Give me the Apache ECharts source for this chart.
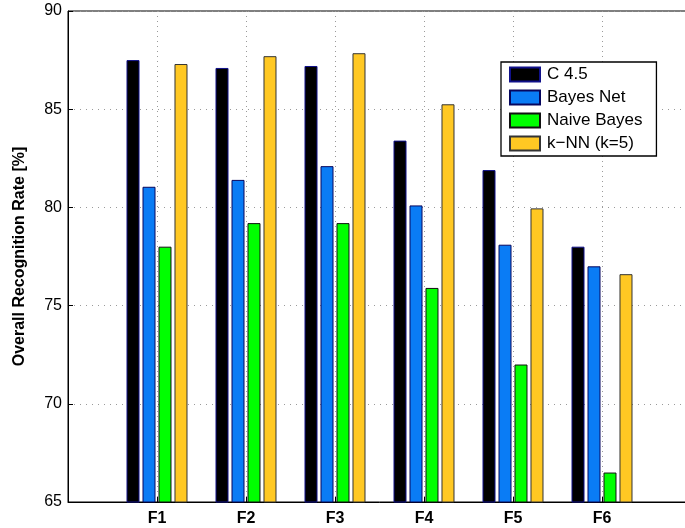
<!DOCTYPE html>
<html>
<head>
<meta charset="utf-8">
<script src="https://cdn.jsdelivr.net/npm/echarts@6/dist/echarts.min.js"></script>
<style>
  html, body { margin: 0; padding: 0; background: #fff; overflow: hidden; width: 685px; height: 528px; }
  #chart { width: 694px; height: 528px; }
</style>
</head>
<body>
<div id="chart"></div>
<script>
// Feature sets on the x axis
const categories = ['F1', 'F2', 'F3', 'F4', 'F5', 'F6'];

// Recognition rate (%) per classifier
const c45 = [87.5, 87.1, 87.2, 83.4, 81.9, 78.0];
const bayesNet = [81.05, 81.4, 82.1, 80.1, 78.1, 77.0];
const naiveBayes = [78.0, 79.2, 79.2, 75.9, 72.0, 66.5];
const knn = [87.3, 87.7, 87.85, 85.25, 79.95, 76.6];

// y axis ticks
const yTicks = [65, 70, 75, 80, 85, 90];

// Pad the axis with an empty slot at each end so the groups sit on ticks 1..6
const axisCats = [''].concat(categories, ['']);
const pad = arr => [null].concat(arr, [null]);

const FONT = 'Liberation Sans, Arial, Helvetica, sans-serif';

const seriesDefs = [
  { name: 'C 4.5', data: c45, color: '#000000', border: '#10108a' },
  { name: 'Bayes Net', data: bayesNet, color: '#0a7cf5', border: '#06065e' },
  { name: 'Naive Bayes', data: naiveBayes, color: '#00ff00', border: '#111111' },
  { name: 'k\u2212NN (k=5)', data: knn, color: '#ffc823', border: '#333333' }
];

const chart = echarts.init(document.getElementById('chart'), null, { renderer: 'canvas' });

chart.setOption({
  animation: false,
  backgroundColor: '#ffffff',
  grid: {
    left: 68, right: 1, top: 11, bottom: 26,
    show: true, borderColor: '#000', borderWidth: 1, backgroundColor: 'transparent'
  },
  legend: {
    orient: 'vertical',
    left: 501, top: 62,
    width: 152,
    padding: [4, 14, 4, 8],
    itemWidth: 30, itemHeight: 14, itemGap: 6,
    backgroundColor: '#fff',
    borderColor: '#000', borderWidth: 1.3,
    textStyle: { fontFamily: FONT, fontSize: 17, color: '#000', padding: [0, 0, 0, 2] },
    data: seriesDefs.map(s => ({ name: s.name, icon: 'rect' }))
  },
  xAxis: {
    type: 'category',
    data: axisCats,
    boundaryGap: false,
    axisLine: { show: true, lineStyle: { color: '#000', width: 1 } },
    axisTick: { show: true, inside: true, length: 5, lineStyle: { color: '#000' } },
    axisLabel: {
      fontFamily: FONT, fontSize: 16, fontWeight: 'bold', color: '#000', margin: 9,
      interval: 0
    },
    splitLine: { show: true, lineStyle: { color: '#9a9a9a', type: [1, 4], width: 1 } }
  },
  yAxis: {
    type: 'value',
    min: yTicks[0], max: yTicks[yTicks.length - 1], interval: 5,
    name: 'Overall Recognition Rate [%]',
    nameLocation: 'middle',
    nameGap: 40,
    nameTextStyle: { fontFamily: FONT, fontSize: 16, fontWeight: 'bold', color: '#000' },
    axisLine: { show: true, lineStyle: { color: '#000', width: 1 } },
    axisTick: { show: true, inside: true, length: 5, lineStyle: { color: '#000' } },
    axisLabel: { fontFamily: FONT, fontSize: 16, color: '#000', margin: 6 },
    splitLine: { show: true, lineStyle: { color: '#9a9a9a', type: [1, 5], width: 1 } }
  },
  series: seriesDefs.map(s => ({
    name: s.name,
    type: 'bar',
    data: pad(s.data),
    barWidth: 13,
    barGap: '23%',
    itemStyle: { color: s.color, borderColor: s.border, borderWidth: 1 },
    emphasis: { disabled: true }
  }))
});
</script>
</body>
</html>
